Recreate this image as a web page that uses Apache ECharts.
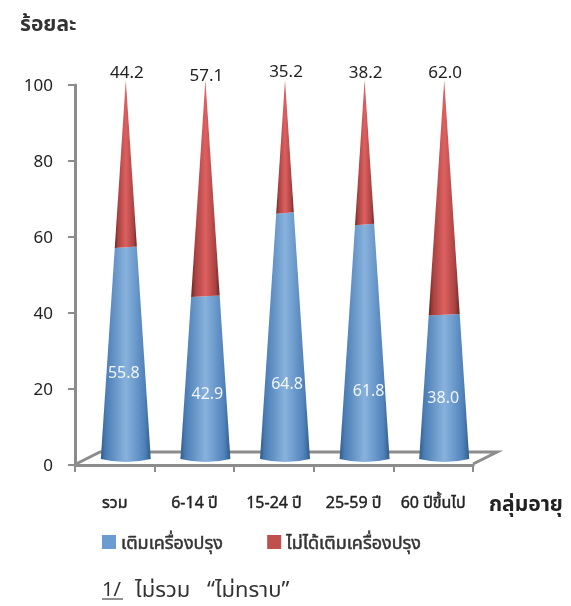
<!DOCTYPE html>
<html><head><meta charset="utf-8">
<style>html,body{margin:0;padding:0;background:#fff}#c{width:571px;height:606px}</style>
<script src="https://cdn.jsdelivr.net/npm/echarts@6/dist/echarts.min.js"></script>
</head><body><div id="c"></div>
<script>
const categories = ['รวม','6-14 ปี','15-24 ปี','25-59 ปี','60 ปีขึ้นไป'];
const seasoned = [55.8,42.9,64.8,61.8,38.0];
const unseasoned = [44.2,57.1,35.2,38.2,62.0];
const yTicks = {min:0,max:100,interval:20};
const seasonedName = 'เติมเครื่องปรุง';
const unseasonedName = 'ไม่ได้เติมเครื่องปรุง';

const FONT = 'Tahoma, "Noto Sans Thai", "Noto Sans", "DejaVu Sans", sans-serif';
const insideDy = [21,17,49,50,12];
const insideDx = [-2,2,2,4,-1];
const topDy = [4,7,3,4,4];
const chart = echarts.init(document.getElementById('c'),null,{renderer:'canvas'});
const blueG = {type:'linear',x:0,y:0,x2:1,y2:0,colorStops:[
 {offset:0,color:'#2f5c88'},{offset:.1,color:'#4a7db5'},{offset:.5,color:'#88b2dd'},{offset:.88,color:'#4f82ba'},{offset:1,color:'#2f5c88'}]};
const redG = {type:'linear',x:0,y:0,x2:1,y2:0,colorStops:[
 {offset:0,color:'#6e2524'},{offset:.15,color:'#a94341'},{offset:.5,color:'#de6060'},{offset:.85,color:'#a94341'},{offset:1,color:'#6e2524'}]};

function geom(api,i){
  const base = api.coord([i,0]), apex = api.coord([i,100]);
  const cx = base[0]+11, by = base[1]-5, ty = apex[1]-5, h = by-ty, R = 25;
  return {cx,by,ty,h,R,hw:v=>R*(1-v/100),y:v=>by-h*v/100};
}
function renderBlue(p,api){
  const i=api.value(0), v=api.value(1), g=geom(api,i), w=g.hw(v), yt=g.y(v);
  return {type:'group',children:[
    {type:'path',shape:{pathData:`M${g.cx-w} ${yt}L${g.cx+w} ${yt-1.5}L${g.cx+g.R} ${g.by-1}Q${g.cx} ${g.by+5} ${g.cx-g.R} ${g.by-1}Z`},style:{fill:blueG}},
    {type:'text',style:{text:v.toFixed(1),x:g.cx+insideDx[i],y:(g.by+yt)/2+insideDy[i],align:'center',verticalAlign:'middle',fill:'#fff',font:'16px '+FONT,opacity:.9}}
  ]};
}
function renderRed(p,api){
  const i=api.value(0), low=api.value(1), v=api.value(2), g=geom(api,i), w=g.hw(low), yb=g.y(low);
  return {type:'group',children:[
    {type:'path',shape:{pathData:`M${g.cx} ${g.ty}L${g.cx+w} ${yb-1.5}L${g.cx-w} ${yb}Z`},style:{fill:redG}},
    {type:'text',style:{text:v.toFixed(1),x:g.cx+1,y:g.ty-9+topDy[i],align:'center',verticalAlign:'middle',fill:'#222',font:'17px '+FONT}}
  ]};
}
const grey='#8c8c8c';
chart.setOption({
  animation:false,
  textStyle:{fontFamily:FONT},
  title:{text:'ร้อยละ',left:15,top:11,textStyle:{fontSize:21,fontWeight:'bold',color:'#333',fontFamily:FONT}},
  legend:{left:97,top:530,icon:'rect',itemWidth:14,itemHeight:14,itemGap:44,
    formatter:n=>'{a|'+n+'}',
    textStyle:{rich:{a:{fontSize:18,color:'#333',fontFamily:FONT,textBorderColor:'#333',textBorderWidth:0.5,padding:[6,0,0,0]}}},
    data:[{name:seasonedName,itemStyle:{color:'#6a9bd3'}},{name:unseasonedName,itemStyle:{color:'#c0504d'}}]},
  grid:{left:75,right:98,top:85,bottom:141},
  xAxis:{type:'category',data:categories,
    axisLine:{show:true,lineStyle:{color:grey,width:3}},
    axisTick:{show:true,alignWithLabel:false,length:7,lineStyle:{color:grey,width:2}},
    axisLabel:{interval:0,margin:32,fontSize:16,fontWeight:'normal',color:'#222',fontFamily:FONT,textBorderColor:'#222',textBorderWidth:0.4},
    splitLine:{show:false}},
  yAxis:{type:'value',min:yTicks.min,max:yTicks.max,interval:yTicks.interval,
    axisLine:{show:true,lineStyle:{color:grey,width:3}},
    axisTick:{show:true,length:7,lineStyle:{color:grey,width:2}},
    axisLabel:{margin:22,fontSize:17,color:'#222',fontFamily:FONT,verticalAlign:'top',lineHeight:6},
    splitLine:{show:false}},
  graphic:[
    {type:'polyline',z:1,shape:{points:[[76,464],[100,452],[497,452],[473,464]]},style:{fill:'none',stroke:grey,lineWidth:3}},
    {type:'text',left:489,top:496,style:{text:'กลุ่มอายุ',font:'bold 21px '+FONT,fill:'#222'}},
    {type:'text',left:102,top:582,style:{text:'1/',font:'20px '+FONT,fill:'#333'}},
    {type:'line',shape:{x1:102,y1:599,x2:123,y2:599},style:{stroke:'#222',lineWidth:1}},
    {type:'text',left:135,top:582,style:{text:'ไม่รวม',font:'22px '+FONT,fill:'#333'}},
    {type:'text',left:207,top:582,style:{text:'“ไม่ทราบ”',font:'22px '+FONT,fill:'#333'}}
  ],
  series:[
    {name:seasonedName,type:'custom',z:3,clip:false,encode:{x:0,y:1},renderItem:renderBlue,
      itemStyle:{color:'#6a9bd3'},data:seasoned.map((v,i)=>[i,v])},
    {name:unseasonedName,type:'custom',z:3,clip:false,encode:{x:0,y:2},renderItem:renderRed,
      itemStyle:{color:'#c0504d'},data:unseasoned.map((v,i)=>[i,seasoned[i],v])}
  ]
});
</script></body></html>
